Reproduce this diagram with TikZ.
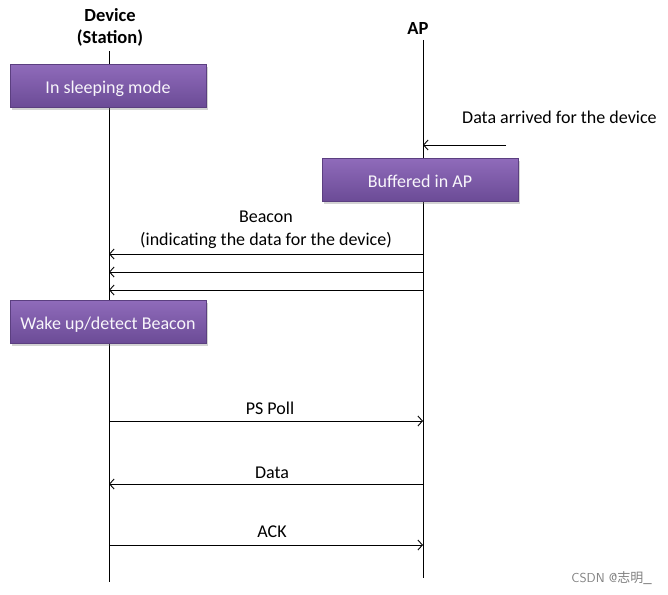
\documentclass[tikz,border=0pt]{standalone}
\usepackage{fontspec}
\setmainfont{Carlito}
\newfontfamily\cjkfont{Noto Sans CJK SC}
\usetikzlibrary{arrows.meta,shadows}

\definecolor{boxtop}{HTML}{8F6BBA}
\definecolor{boxbot}{HTML}{6B4B96}
\definecolor{boxedge}{HTML}{5B3F80}

\tikzset{
	state/.style={draw=boxedge, line width=0.6pt, top color=boxtop, bottom color=boxbot,
		text=white!94!boxtop, minimum width=196pt, minimum height=43pt, inner sep=0pt,
		text height=14pt, text depth=0pt,
		drop shadow={shadow xshift=2pt, shadow yshift=-2pt, opacity=0.35},
		font=\fontsize{18}{21}\selectfont},
	msg/.style={line width=0.9pt, -{Straight Barb[length=4.5pt,width=10pt]}},
	lbl/.style={font=\fontsize{18}{23}\selectfont, inner sep=0pt},
	head/.style={font=\fontsize{18.5}{22}\selectfont\bfseries, align=center, inner sep=0pt}
}

\begin{document}
\begin{tikzpicture}[x=1pt,y=-1pt]

	\useasboundingbox (0,0) rectangle (668,594);

	% lifelines
	\node[head] (dev) at (110,27) {Device\\(Station)};
	\node[head] (ap) at (418,29) {AP};
	\coordinate (dtop) at (109,51);
	\coordinate (dbot) at (109,582);
	\coordinate (atop) at (423,40);
	\coordinate (abot) at (423,578);
	\draw[line width=0.9pt] (dtop) -- (dbot);
	\draw[line width=0.9pt] (atop) -- (abot);

	% states
	\node[state] (sleep) at (108,86) {In sleeping mode};
	\node[state] (buf) at (420,180) {Buffered in AP};
	\node[state] (wake) at (108,322) {Wake up/detect Beacon};

	% data arrives at AP
	\node[lbl, anchor=west] (arr) at (462,117) {Data arrived for the device};
	\coordinate (src) at (506,145);
	\coordinate (a0) at (423,145);
	\draw[msg] (src) -- (a0);

	% beacons
	\node[lbl, align=center] (beacon) at (266,230) {Beacon\\(indicating the data for the device)};
	\foreach \y [count=\i] in {254,272,290} {
		\coordinate (ab\i) at (423,\y);
		\coordinate (db\i) at (109,\y);
		\draw[msg] (ab\i) -- (db\i);
	}

	% poll / data / ack
	\node[lbl] (poll) at (270,408) {PS Poll};
	\coordinate (dp) at (109,421);
	\coordinate (ap1) at (423,421);
	\draw[msg] (dp) -- (ap1);

	\node[lbl] (data) at (272,473) {Data};
	\coordinate (ad) at (423,484);
	\coordinate (dd) at (109,484);
	\draw[msg] (ad) -- (dd);

	\node[lbl] (ack) at (272,532) {ACK};
	\coordinate (dk) at (109,545);
	\coordinate (ak) at (423,545);
	\draw[msg] (dk) -- (ak);

	% watermark
	\node[text=black!50, font=\sffamily\fontsize{13}{15}\selectfont, anchor=east, inner sep=0pt] (mark) at (652,578) {CSDN @{\cjkfont 志明}\_};

\end{tikzpicture}
\end{document}
